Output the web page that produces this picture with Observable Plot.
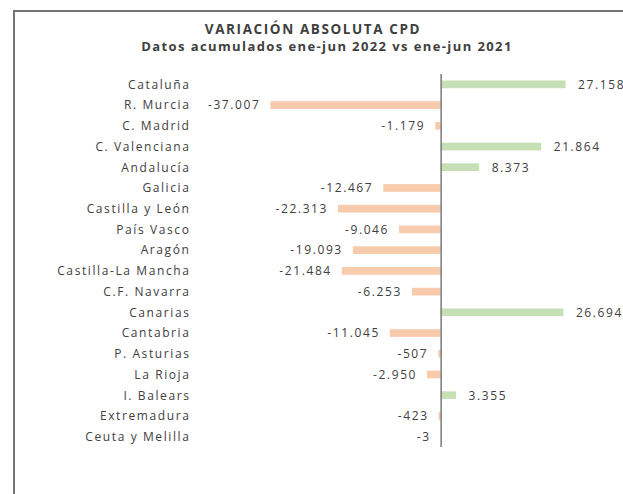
<!DOCTYPE html>
<html>
<head>
<meta charset="utf-8">
<script src="https://cdn.jsdelivr.net/npm/d3@7"></script>
<script src="https://cdn.jsdelivr.net/npm/@observablehq/plot@0.6"></script>
<style>
  html, body { margin: 0; padding: 0; background: #fff; overflow: hidden; }
  #wrap { position: relative; width: 623px; height: 494px; overflow: hidden; font-family: "Open Sans", sans-serif; }
  #frame { position: absolute; left: 13px; top: 9.5px; width: 700px; height: 600px; border: 2px solid #747474; box-sizing: border-box; }
  #chart { position: absolute; left: 0; top: 0; }
  .t { position: absolute; left: 0; text-align: center; font-weight: 700; color: #404040; white-space: nowrap; line-height: 1; }
  #title { top: 22.5px; width: 626px; font-size: 13.5px; letter-spacing: 1.6px; }
  #subtitle { top: 40.2px; width: 654px; font-size: 13px; letter-spacing: 1.4px; }
</style>
</head>
<body>
<div id="wrap">
  <div id="frame"></div>
  <div id="chart"></div>
  <div class="t" id="title">VARIACIÓN ABSOLUTA CPD</div>
  <div class="t" id="subtitle">Datos acumulados ene-jun 2022 vs ene-jun 2021</div>
</div>
<script>
const regions = ["Cataluña","R. Murcia","C. Madrid","C. Valenciana","Andalucía","Galicia","Castilla y León","País Vasco","Aragón","Castilla-La Mancha","C.F. Navarra","Canarias","Cantabria","P. Asturias","La Rioja","I. Balears","Extremadura","Ceuta y Melilla"];
const variation = [27158,-37007,-1179,21864,8373,-12467,-22313,-9046,-19093,-21484,-6253,26694,-11045,-507,-2950,3355,-423,-3];

const data = regions.map((r, i) => ({region: r, v: variation[i]}));
const loc = d3.formatLocale({decimal: ",", thousands: ".", grouping: [3], currency: ["", ""], minus: "-"});
const fmt = loc.format(",");

const chart = Plot.plot({
  width: 623,
  height: 494,
  marginLeft: 201.5,
  marginRight: 3,
  marginTop: 74,
  marginBottom: 47,
  style: {fontFamily: "Open Sans, sans-serif", fontSize: "12px", letterSpacing: "1.6px", color: "#404040", background: "transparent"},
  x: {domain: [-52000, 39000], axis: null},
  y: {domain: regions, padding: 0, round: false, label: null},
  marks: [
    Plot.barX(data, {x: "v", y: "region", fill: d => d.v >= 0 ? "#c5e0b4" : "#f8cbad", insetTop: 6.5, insetBottom: 6.5}),
    Plot.ruleX([0], {stroke: "#7a7a7a", strokeWidth: 1.5}),
    Plot.axisY({tickSize: 0, tickPadding: 11.5, fontSize: 12, fill: "#404040", label: null}),
    Plot.text(data.filter(d => d.v >= 0), {x: "v", y: "region", text: d => fmt(d.v), textAnchor: "start", dx: 12, fill: "#404040", fontSize: 12}),
    Plot.text(data.filter(d => d.v < 0), {x: "v", y: "region", text: d => fmt(d.v), textAnchor: "end", dx: -10.5, fill: "#404040", fontSize: 12})
  ]
});
document.getElementById("chart").appendChild(chart);
</script>
</body>
</html>
